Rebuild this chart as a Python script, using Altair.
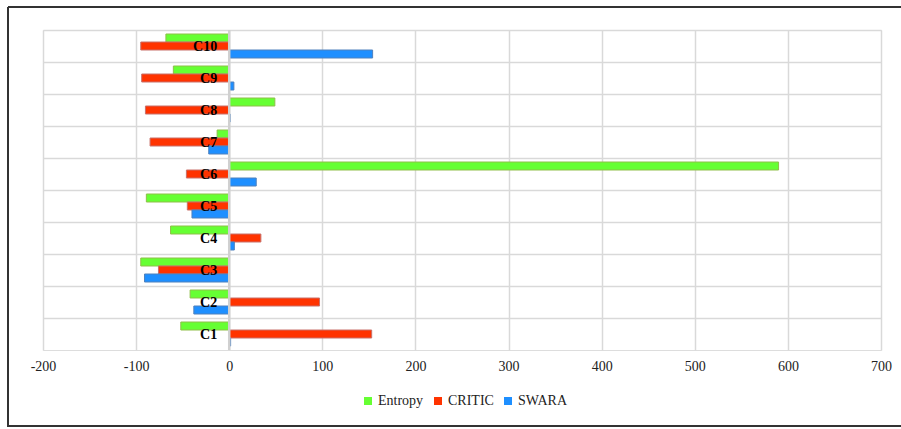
import altair as alt
import pandas as pd

categories = ["C1", "C2", "C3", "C4", "C5", "C6", "C7", "C8", "C9", "C10"]
series = ["Entropy", "CRITIC", "SWARA"]
entropy = [-52, -42, -95, -63, -89, 590, -13, 49, -60, -68]
critic = [153, 97, -76, 34, -45, -46, -85, -90, -94, -95]
swara = [1.5, -38, -91, 5.5, -40, 29, -22, 1, 5, 154]
x_ticks = [-200, -100, 0, 100, 200, 300, 400, 500, 600, 700]

fill_colors = ["#66ff33", "#ff3300", "#1e8fff"]
stroke_colors = ["#8fbf4a", "#c8706a", "#4f81bd"]

rows = []
for i, c in enumerate(categories):
    for s, vals in zip(series, [entropy, critic, swara]):
        rows.append({"cat": c, "series": s, "value": vals[i]})
df = pd.DataFrame(rows)
order_desc = categories[::-1]

FONT = "Liberation Serif"

y_scale = alt.Scale(domain=order_desc, paddingInner=0, paddingOuter=0)
x_scale = alt.Scale(domain=[-200, 700], nice=False, zero=False)

x_axis = alt.Axis(values=x_ticks, title=None, grid=True, gridColor="#d9d9d9",
                  gridWidth=1.5, ticks=False, domain=False, labelFont=FONT,
                  labelFontSize=14, labelColor="#222", labelPadding=9,
                  labelFlush=False, labelOverlap=False,
                  labelExpr="'' + datum.value")
y_axis = alt.Axis(title=None, labels=False, ticks=False, domain=False,
                  grid=True, gridColor="#d9d9d9", gridWidth=1.5, bandPosition=0)

bars = alt.Chart(df).mark_bar(strokeWidth=1).encode(
    x=alt.X("value:Q", scale=x_scale, axis=x_axis),
    x2=alt.datum(0),
    y=alt.Y("cat:N", scale=y_scale, axis=y_axis),
    yOffset=alt.YOffset("series:N", scale=alt.Scale(domain=series, paddingInner=0, paddingOuter=0.5)),
    color=alt.Color("series:N", scale=alt.Scale(domain=series, range=fill_colors),
                    legend=alt.Legend(title=None, orient="none", direction="horizontal",
                                      legendX=318, legendY=364, symbolType="square",
                                      symbolSize=64, labelFont=FONT, labelFontSize=14,
                                      labelColor="#222", columnPadding=7, labelOffset=3,
                                      symbolStrokeWidth=0)),
    stroke=alt.Stroke("series:N", scale=alt.Scale(domain=series, range=stroke_colors), legend=None),
)

zero_df = pd.DataFrame({"z": [0]})
zero_line = alt.Chart(zero_df).mark_rule(color="#d0d0d0", strokeWidth=2.5).encode(
    x=alt.X("z:Q", scale=x_scale, axis=x_axis)
)

label_df = pd.DataFrame({"cat": categories, "z": [0] * len(categories)})
labels = alt.Chart(label_df).mark_text(
    align="right", baseline="middle", dx=-12, dy=1, font=FONT, fontSize=14,
    fontWeight="bold", color="#000"
).encode(
    x=alt.X("z:Q", scale=x_scale, axis=x_axis),
    y=alt.Y("cat:N", scale=y_scale, axis=y_axis),
    text=alt.Text("cat:N"),
)

one = alt.Data(values=[{}])
border_left = alt.Chart(one).mark_rule(color="#333", strokeWidth=2, clip=False).encode(
    x=alt.value(-35), y=alt.value(-23), y2=alt.value(397))
border_top = alt.Chart(one).mark_rule(color="#333", strokeWidth=2, clip=False).encode(
    x=alt.value(-35), x2=alt.value(880), y=alt.value(-23))
border_bottom = alt.Chart(one).mark_rule(color="#333", strokeWidth=2, clip=False).encode(
    x=alt.value(-35), x2=alt.value(880), y=alt.value(396))

chart = alt.layer(bars, zero_line, labels, border_left, border_top, border_bottom).properties(
    width=838, height=320,
    autosize=alt.AutoSizeParams(type="none"),
    padding={"left": 43, "top": 30, "right": 20, "bottom": 79},
).configure_view(stroke="#d9d9d9", strokeWidth=1.5).configure(
    background="white"
).configure_axis(labelFont=FONT).configure_legend(labelFont=FONT)

chart.save("out.html", embed_options={"renderer": "svg", "actions": False})
